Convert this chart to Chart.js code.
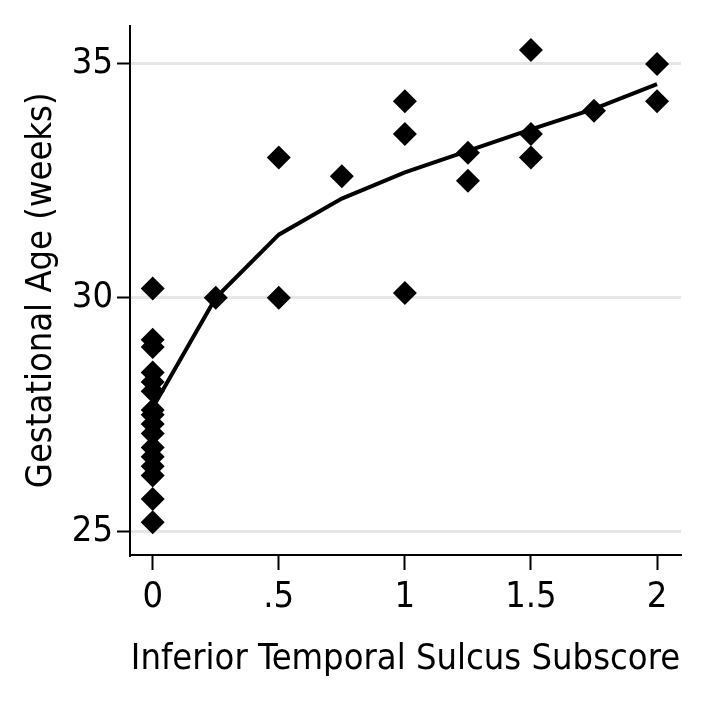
<!DOCTYPE html>
<html>
<head>
<meta charset="utf-8">
<script src="https://cdn.jsdelivr.net/npm/chart.js@4"></script>
<style>
  html, body { margin: 0; padding: 0; background: #fff; }
  #wrap { position: relative; width: 707px; height: 701px; }
</style>
</head>
<body>
<div id="wrap"><canvas id="chart" width="707" height="701"></canvas></div>
<script>
// observed subscores and gestational ages
const subscore = [0, 0, 0, 0, 0, 0, 0, 0, 0, 0, 0, 0, 0, 0, 0, 0,
  0.25, 0.5, 0.5, 0.75, 1, 1, 1, 1.25, 1.25, 1.5, 1.5, 1.5, 1.75, 2, 2];
const gestAge = [30.2, 29.1, 28.95, 28.4, 28.2, 28.0, 27.6, 27.5, 27.3, 27.1, 26.8, 26.6, 26.4, 26.2, 25.7, 25.2,
  30.0, 33.0, 30.0, 32.6, 34.2, 33.5, 30.1, 33.1, 32.5, 35.3, 33.5, 33.0, 34.0, 35.0, 34.2];

// fitted curve
const fitX = [0, 0.25, 0.5, 0.75, 1, 1.25, 1.5, 1.75, 2];
const fitY = [27.65, 30.0, 31.35, 32.12, 32.68, 33.14, 33.6, 34.04, 34.57];

const xTicks = [0, 0.5, 1, 1.5, 2];
const yTicks = [25, 30, 35];

const FONT = "'Liberation Sans Narrow', 'DejaVu Sans Condensed', sans-serif";

const fmtX = v => (v > 0 && v < 1) ? String(v).replace(/^0/, '') : String(v);

new Chart(document.getElementById('chart'), {
  type: 'scatter',
  data: {
    datasets: [
      {
        type: 'line',
        data: fitX.map((x, i) => ({ x: x, y: fitY[i] })),
        borderColor: '#000',
        borderWidth: 4,
        pointRadius: 0,
        fill: false,
        tension: 0
      },
      {
        data: subscore.map((x, i) => ({ x: x, y: gestAge[i] })),
        pointStyle: 'rectRot',
        pointRadius: 12,
        backgroundColor: '#000',
        borderColor: '#000',
        borderWidth: 0
      }
    ]
  },
  options: {
    responsive: false,
    animation: false,
    layout: { padding: { left: 0, top: 25, right: 26, bottom: 0 } },
    plugins: { legend: { display: false }, tooltip: { enabled: false } },
    scales: {
      x: {
        type: 'linear',
        min: -0.09,
        max: 2.095,
        afterBuildTicks: s => { s.ticks = xTicks.map(v => ({ value: v })); },
        afterFit: s => { s.height = 146; },
        border: { display: true, color: '#000', width: 2 },
        grid: { drawOnChartArea: false, drawTicks: true, tickLength: 15, tickColor: '#000', tickWidth: 2 },
        ticks: {
          color: '#000',
          padding: 6,
          maxRotation: 0,
          font: { family: FONT, size: 36 },
          callback: v => fmtX(v)
        },
        title: {
          display: true,
          text: 'Inferior Temporal Sulcus Subscore',
          color: '#000',
          font: { family: FONT, size: 36 },
          padding: { top: 0, bottom: 20 }
        }
      },
      y: {
        type: 'linear',
        min: 24.5,
        max: 35.82,
        afterBuildTicks: s => { s.ticks = yTicks.map(v => ({ value: v })); },
        afterFit: s => { s.width = 130; },
        border: { display: true, color: '#000', width: 2 },
        grid: { color: '#e6e6e6', lineWidth: 3, drawTicks: true, tickLength: 13, tickColor: '#000', tickWidth: 2 },
        ticks: {
          color: '#000',
          padding: 4,
          font: { family: FONT, size: 36 }
        },
        title: {
          display: true,
          text: 'Gestational Age (weeks)',
          color: '#000',
          font: { family: FONT, size: 36 },
          padding: { top: 20, bottom: 0 }
        }
      }
    }
  }
});
</script>
</body>
</html>
